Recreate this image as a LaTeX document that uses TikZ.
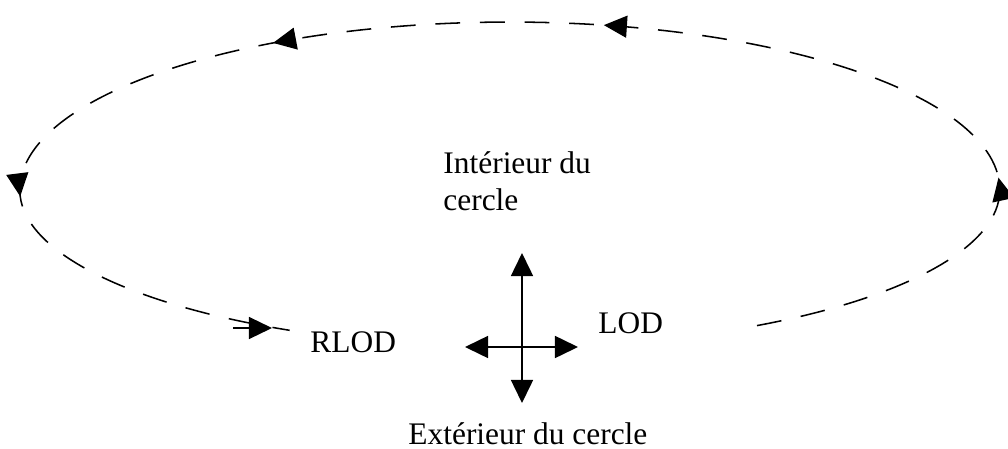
\documentclass[tikz,border=0pt]{standalone}
\usepackage{fontspec}
\setmainfont{Liberation Serif}
\usetikzlibrary{arrows.meta, decorations.markings}

\begin{document}
\begin{tikzpicture}[x=0.16mm, y=0.16mm, font=\fontsize{14.3}{16.8}\selectfont,
  >={Triangle[length=10.5pt,width=10pt]}]

  \tikzstyle{texte}=[inner sep=0pt]
  \tikzstyle{sens}=[dash pattern=on 11.3pt off 9pt, line width=0.7pt]
  \tikzstyle{axe}=[line width=0.85pt, <->]

  \useasboundingbox (0,0) rectangle (1008,448);

  \node[texte, anchor=north west, align=left] (interieur) at (443,297) {Intérieur du\\cercle};
  \node[texte, anchor=base west] (rlod) at (310,96) {RLOD};
  \node[texte, anchor=base west] (lod) at (598,115) {LOD};
  \node[texte, anchor=base west] (exterieur) at (408,4) {Extérieur du cercle};

  \coordinate (ctr) at (522,101);
  \coordinate (haut) at (522,195);
  \coordinate (bas) at (522,45);
  \coordinate (gauche) at (465,101);
  \coordinate (droite) at (578,101);
  \draw[axe] (bas) -- (haut);
  \draw[axe] (gauche) -- (droite);

  % le tour, dans le sens inverse des aiguilles
  \coordinate (depart) at (757,122.4);
  \draw[sens, postaction={decorate}, decoration={markings,
      mark=at position 0.179 with {\arrow{>}},
      mark=at position 0.437 with {\arrow{>}},
      mark=at position 0.631 with {\arrow{>}},
      mark=at position 0.816 with {\arrow{>}}}]
    (depart) arc[start angle=-59.7, end angle=0, x radius=490, y radius=157]
             arc[start angle=0, end angle=180, x radius=490, y radius=168]
             arc[start angle=180, end angle=243.3, x radius=490, y radius=157];

  \coordinate (rl1) at (233,120);
  \coordinate (rl2) at (272,120);
  \draw[line width=0.7pt, ->] (rl1) -- (rl2);

  %\draw[step=50,gray,very thin] (0,0) grid (1008,448);

\end{tikzpicture}
\end{document}
